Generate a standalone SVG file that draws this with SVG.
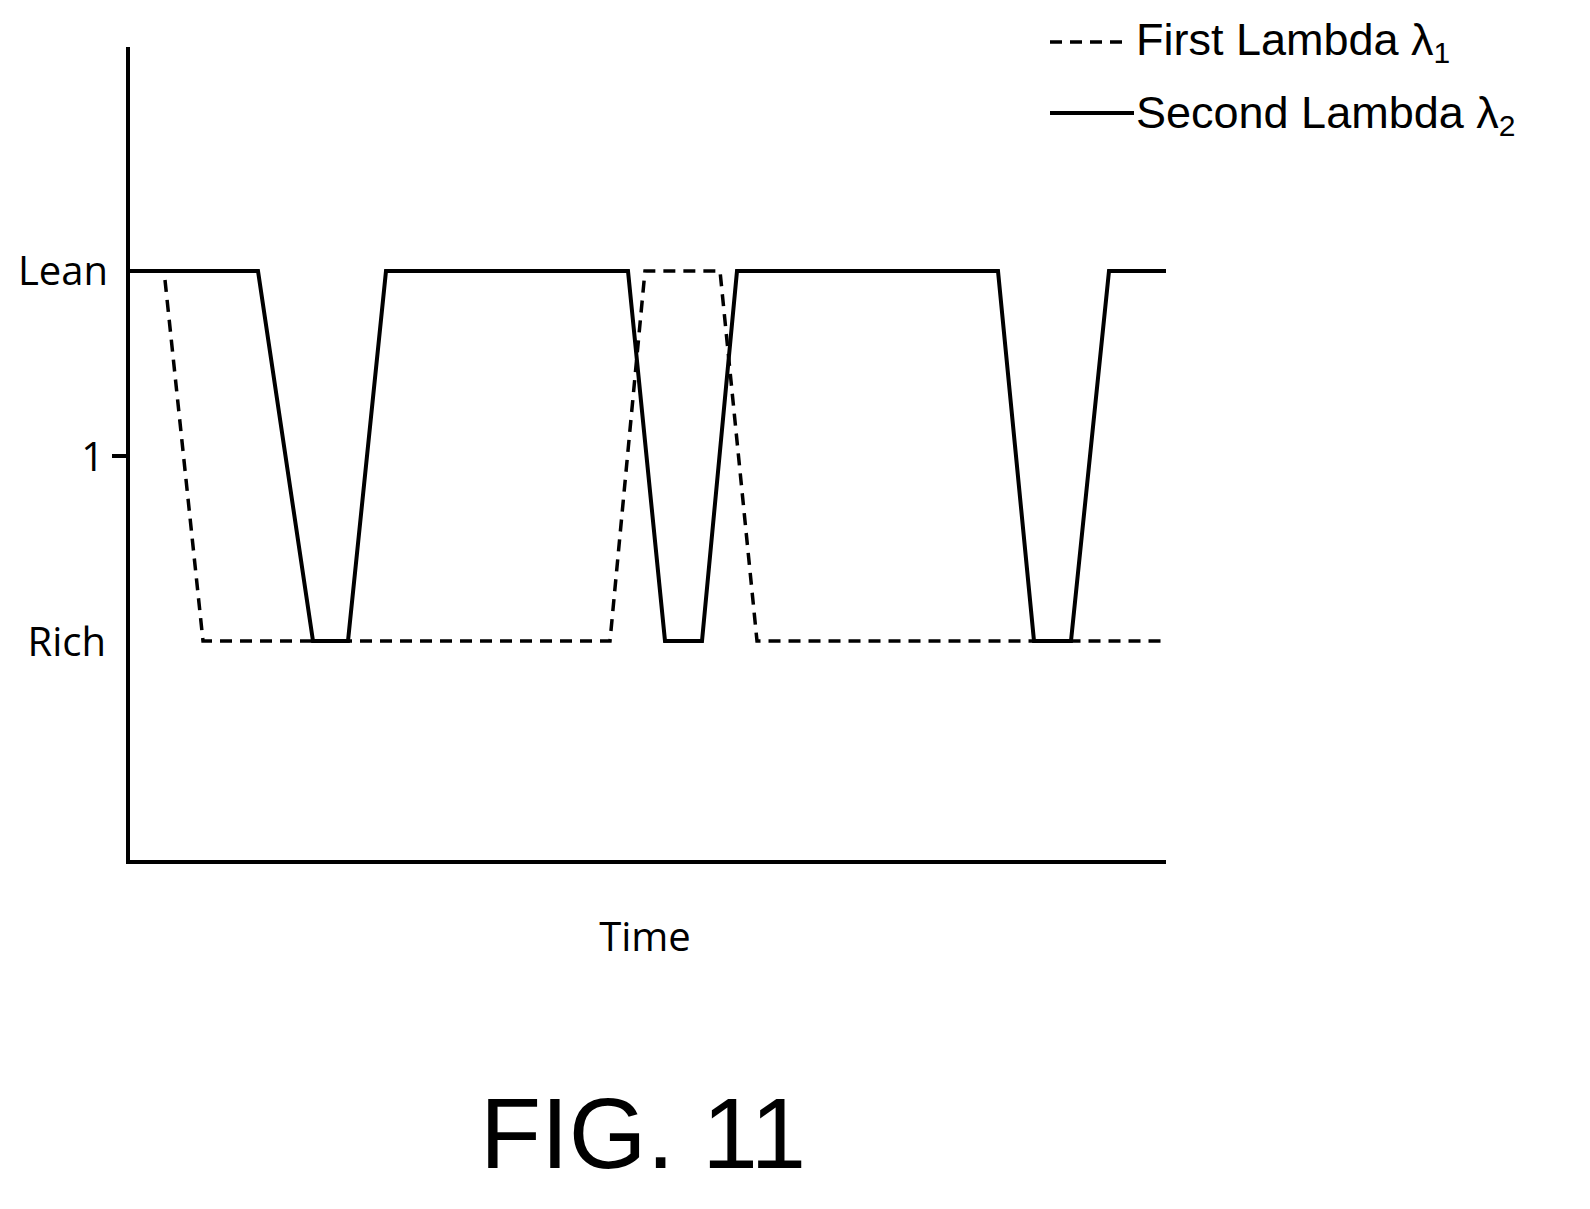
<svg xmlns="http://www.w3.org/2000/svg" width="1590" height="1209" viewBox="0 0 1590 1209">
<style>
.ax{stroke:#000;stroke-width:4;fill:none}
.s{stroke:#000;stroke-width:4;fill:none;stroke-linejoin:miter}
.d{stroke:#000;stroke-width:3.5;fill:none;stroke-dasharray:12,8}
.t{font-family:"Open Sans","Liberation Sans",sans-serif;fill:#000}
.l{font-family:"Liberation Sans",Arial,sans-serif;fill:#000}
</style>
<rect width="1590" height="1209" fill="#fff"/>
<g id="axes">
<path class="ax" d="M128,47 V862 H1166"/>
<path class="ax" d="M112,456 H128"/>
</g>
<g id="connectors">
<path class="s" d="M128,271 H258 L313,641 H348 L386,271 H628 L665,641 H702 L737,271 H998 L1034,641 H1071 L1109,271 H1166"/>
<path class="d" d="M165,280 L203,641 H610 L645,271 H720 L757,641 H1166"/>
</g>
<g id="labels" class="t">
<text x="108" y="285" font-size="40" text-anchor="end">Lean</text>
<text x="104" y="471" font-size="40" text-anchor="end">1</text>
<text x="106" y="656" font-size="40" text-anchor="end">Rich</text>
<text x="645" y="951" font-size="40" text-anchor="middle">Time</text>
<text class="l" x="643" y="1168" font-size="100" text-anchor="middle">FIG. 11</text>
</g>
<g id="legend">
<path class="d" d="M1050,42 H1127"/>
<path class="s" d="M1050,113 H1134"/>
<text class="l" x="1136" y="55" font-size="45">First Lambda λ<tspan font-size="30" dy="8">1</tspan></text>
<text class="l" x="1136" y="128" font-size="45">Second Lambda λ<tspan font-size="30" dy="8">2</tspan></text>
</g>
</svg>
